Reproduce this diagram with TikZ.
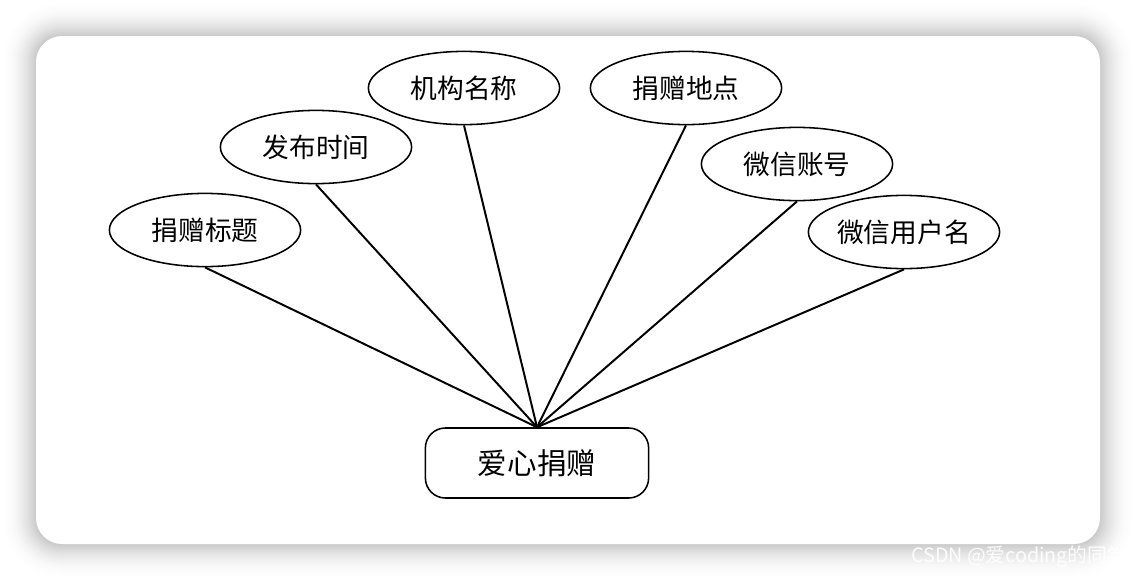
\documentclass[tikz,border=0pt]{standalone}
\usepackage{fontspec}
\newfontfamily\cjk{Noto Sans CJK SC}
\usetikzlibrary{shapes.geometric}

\tikzset{
  attr/.style={ellipse,draw,line width=1.1pt,minimum width=4.78cm,minimum height=1.83cm,
    inner sep=0pt,font=\cjk\fontsize{19}{22}\selectfont},
  entity/.style={rectangle,rounded corners=0.5cm,draw,line width=1.1pt,minimum width=5.58cm,
    minimum height=1.75cm,inner sep=0pt,font=\cjk\fontsize{21}{24}\selectfont},
  link/.style={line width=1.4pt}
}

\begin{document}
\begin{tikzpicture}[x=0.025cm,y=-0.025cm]
  \useasboundingbox (0,0) rectangle (1136,580);
  % shadow and card
  \foreach \i in {36,34,...,0}{
    \pgfmathsetmacro\p{22*(1-\i/36)^2}
    \fill[black!\p,rounded corners={(25+\i)*0.025cm}] (36-\i,36-\i) rectangle (1100+\i,544+\i);
  }
  \fill[white,rounded corners=0.65cm] (36,36) rectangle (1100,544);

  \node[entity] (love) at (537,463) {爱心捐赠};

  \node[attr] (title) at (205,230) {捐赠标题};
  \node[attr] (time) at (316,147) {发布时间};
  \node[attr] (org) at (464,88) {机构名称};
  \node[attr] (place) at (686,88) {捐赠地点};
  \node[attr] (wxid) at (797,164) {微信账号};
  \node[attr] (wxname) at (904,232) {微信用户名};

  \foreach \a in {title,time,org,place,wxid,wxname}
    \draw[link] (\a.south) -- (love.north);

  \node[anchor=west,text=white,opacity=0.9,font=\cjk\fontsize{14}{16}\selectfont,inner sep=0pt] (mark) at (911,557) {CSDN @爱coding的同学};
\end{tikzpicture}
\end{document}
